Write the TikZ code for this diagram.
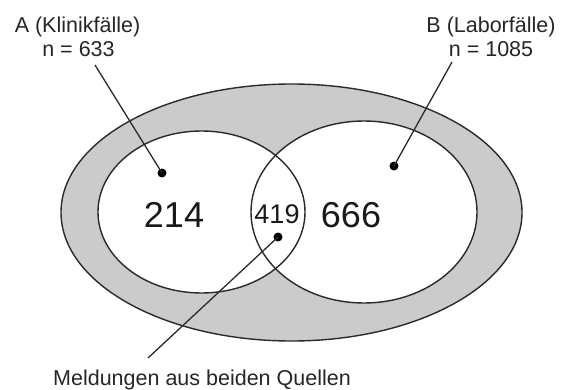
\documentclass[tikz,border=0pt]{standalone}
\usepackage{fontspec}
\setmainfont{Liberation Sans}
\definecolor{ringgray}{HTML}{CBCBCB}
\definecolor{linegray}{HTML}{2A2A2A}
\begin{document}
\begin{tikzpicture}[x=1pt,y=-1pt,
  outline/.style={draw=linegray,line width=1.4pt},
  lbl/.style={inner sep=0pt,anchor=base,font=\fontsize{21.5}{24}\selectfont,text=black!85},
  bignum/.style={inner sep=0pt,anchor=base,font=\fontsize{36}{40}\selectfont,text=black!90},
  midnum/.style={inner sep=0pt,anchor=base,font=\fontsize{27}{30}\selectfont,text=black!90},
  dot/.style={circle,fill=black,inner sep=0pt,minimum size=9pt},
  leader/.style={draw=linegray,line width=1.3pt}]
\useasboundingbox (0,0) rectangle (561,390);
% outer ring
\fill[ringgray] (291.5,212.5) ellipse [x radius=230.5,y radius=128.5];
\draw[outline] (291.5,212.5) ellipse [x radius=230.5,y radius=128.5];
% inner sets
\fill[white] (201.5,212) ellipse [x radius=103.5,y radius=81];
\fill[white] (364,212) ellipse [x radius=113,y radius=91];
\draw[outline] (201.5,212) ellipse [x radius=103.5,y radius=81];
\draw[outline] (364,212) ellipse [x radius=113,y radius=91];
% numbers
\node[bignum] (n214) at (174,227) {214};
\node[bignum] (n666) at (351,227) {666};
\node[midnum] (n419) at (277,223) {419};
% labels
\node[lbl] (labA) at (77.5,33) {A (Klinikfälle)};
\node[lbl] (cntA) at (78.5,57) {n = 633};
\node[lbl] (labB) at (491,33) {B (Laborfälle)};
\node[lbl] (cntB) at (491,57) {n = 1085};
\node[lbl,anchor=base west] (both) at (53,385) {Meldungen aus beiden Quellen};
% dots
\node[dot] (dotA) at (162,173) {};
\node[dot] (dotB) at (394,166) {};
\node[dot] (dotAB) at (278,237) {};
% leader lines
\coordinate (a0) at (95,65);
\coordinate (b0) at (452,62);
\coordinate (c0) at (148,358);
\draw[leader] (a0) -- (dotA.center);
\draw[leader] (b0) -- (dotB.center);
\draw[leader] (c0) -- (dotAB.center);
\end{tikzpicture}
\end{document}
